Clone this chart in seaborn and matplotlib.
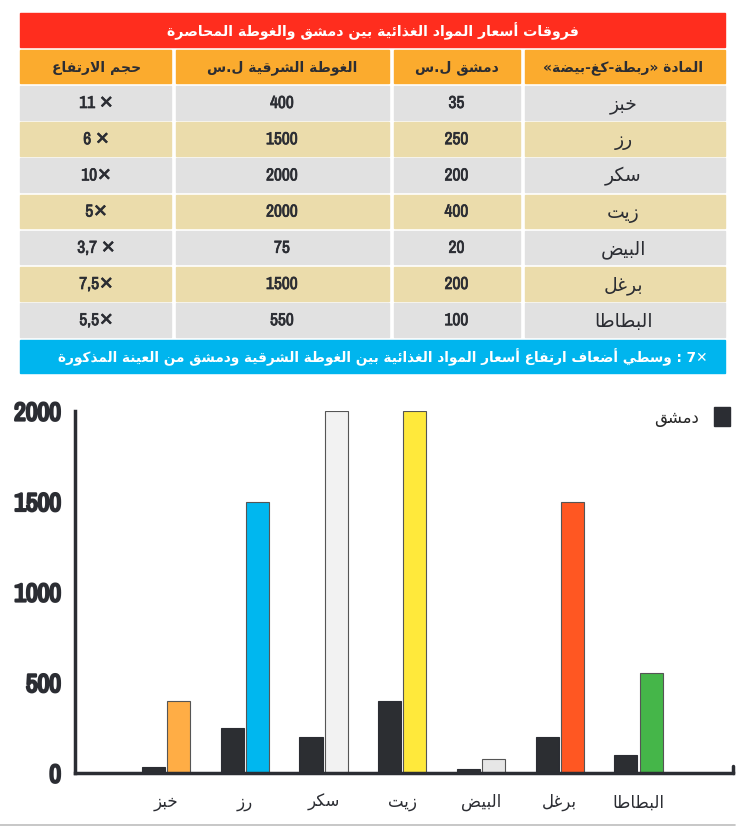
import re
import pandas as pd
import seaborn as sns
import matplotlib.pyplot as plt
import matplotlib.patheffects as pe
from matplotlib.patches import Rectangle, Patch
from matplotlib import font_manager

# ---- data ----
items = ['خبز', 'رز', 'سكر', 'زيت', 'البيض', 'برغل', 'البطاطا']
damascus = [35, 250, 200, 400, 20, 200, 100]
ghouta = [400, 1500, 2000, 2000, 75, 1500, 550]
ratio_labels = ['11 ✕', '6 ✕', '10✕', '5✕', '3,7 ✕', '7,5✕', '5,5✕']
ghouta_colors = ['#ffad45', '#00b7ef', '#f2f2f2', '#ffe93b', '#e6e6e6', '#ff5722', '#45b649']
title = 'فروقات أسعار المواد الغذائية بين دمشق والغوطة المحاصرة'
headers = ['حجم الارتفاع', 'الغوطة الشرقية ل.س', 'دمشق ل.س', 'المادة «ربطة-كغ-بيضة»']
footer = 'وسطي أضعاف ارتفاع أسعار المواد الغذائية بين الغوطة الشرقية ودمشق من العينة المذكورة'
footer_mult = '7✕'
legend_label = 'دمشق'
yticks = [0, 500, 1000, 1500, 2000]

# ---- minimal arabic shaping (matplotlib has no shaping / bidi) ----
AR = {
    'ء': (0xFE80, -1), 'آ': (0xFE81, 0), 'أ': (0xFE83, 0), 'ؤ': (0xFE85, 0), 'إ': (0xFE87, 0),
    'ئ': (0xFE89, 1), 'ا': (0xFE8D, 0), 'ب': (0xFE8F, 1), 'ة': (0xFE93, 0), 'ت': (0xFE95, 1),
    'ث': (0xFE99, 1), 'ج': (0xFE9D, 1), 'ح': (0xFEA1, 1), 'خ': (0xFEA5, 1), 'د': (0xFEA9, 0),
    'ذ': (0xFEAB, 0), 'ر': (0xFEAD, 0), 'ز': (0xFEAF, 0), 'س': (0xFEB1, 1), 'ش': (0xFEB5, 1),
    'ص': (0xFEB9, 1), 'ض': (0xFEBD, 1), 'ط': (0xFEC1, 1), 'ظ': (0xFEC5, 1), 'ع': (0xFEC9, 1),
    'غ': (0xFECD, 1), 'ف': (0xFED1, 1), 'ق': (0xFED5, 1), 'ك': (0xFED9, 1), 'ل': (0xFEDD, 1),
    'م': (0xFEE1, 1), 'ن': (0xFEE5, 1), 'ه': (0xFEE9, 1), 'و': (0xFEED, 0), 'ى': (0xFEEF, 0),
    'ي': (0xFEF1, 1),
}
LAMALEF = {'آ': 0xFEF5, 'أ': 0xFEF7, 'إ': 0xFEF9, 'ا': 0xFEFB}
MIRROR = {'(': ')', ')': '(', '«': '»', '»': '«'}


def shape(text):
    out = []
    i = 0
    while i < len(text):
        c = text[i]
        if c not in AR:
            out.append(c)
            i += 1
            continue
        prev = text[i - 1] if i > 0 else ''
        p = prev in AR and AR[prev][1] == 1
        if c == 'ل' and i + 1 < len(text) and text[i + 1] in LAMALEF:
            out.append(chr(LAMALEF[text[i + 1]] + (1 if p else 0)))
            i += 2
            continue
        nxt = text[i + 1] if i + 1 < len(text) else ''
        base, kind = AR[c]
        q = kind == 1 and nxt in AR and AR[nxt][1] != -1
        if kind == -1:
            form = 0
        elif p and q:
            form = 3
        elif p:
            form = 1
        elif q:
            form = 2
        else:
            form = 0
        out.append(chr(base + form))
        i += 1
    return ''.join(out)


def ar(text):
    toks = re.findall(r'\d+(?:[.,]\d+)*|.', shape(text))
    return ''.join(MIRROR.get(t, t) for t in reversed(toks))


names = sorted({f.name for f in font_manager.fontManager.ttflist})
narrow = [n for n in names if 'Narrow' in n or 'Condensed' in n]
num_family = narrow[:1] + ['DejaVu Sans'] if narrow else ['DejaVu Sans']

dark = '#2b2d33'
# fake a heavier weight for the narrow digits
heavy = [pe.withStroke(linewidth=0.5, foreground=dark)]
heavy_axis = [pe.withStroke(linewidth=1.6, foreground=dark)]

# ---- figure ----
sns.set_style('white')
plt.rcParams['font.family'] = ['DejaVu Sans']

W, H = 754, 829
fig = plt.figure(figsize=(W / 100, H / 100), dpi=100)

bg = fig.add_axes([0, 0, 1, 1])
bg.set_xlim(0, W)
bg.set_ylim(H, 0)
bg.axis('off')

left, right = 20, 725
col_edges = [20, 173, 391, 522, 725]
col_centers = [(col_edges[k] + col_edges[k + 1]) / 2 for k in range(4)]
gap = 2.5

bg.add_patch(Rectangle((left, 14), right - left, 34, color='#ff2d1e'))
bg.text((left + right) / 2, 31, ar(title), color='white', fontsize=10.2, fontweight='bold',
        ha='center', va='center')

for k in range(4):
    x0, x1 = col_edges[k] + (gap if k else 0), col_edges[k + 1] - (gap if k < 3 else 0)
    bg.add_patch(Rectangle((x0, 51), x1 - x0, 33, color='#fbab2e'))
    bg.text(col_centers[k], 68, ar(headers[k]), color=dark, fontsize=10, fontweight='bold',
            ha='center', va='center')

row_colors = ['#e1e1e1', '#ebdcab']
for i, name in enumerate(items):
    top = 87 + i * 36.2
    cells = [ratio_labels[i], str(ghouta[i]), str(damascus[i]), ar(name)]
    for k in range(4):
        x0, x1 = col_edges[k] + (gap if k else 0), col_edges[k + 1] - (gap if k < 3 else 0)
        bg.add_patch(Rectangle((x0, top), x1 - x0, 33.5, color=row_colors[i % 2]))
        if k < 3:
            bg.text(col_centers[k], top + 17.5, cells[k], color=dark, fontsize=12.5,
                    fontweight='bold', ha='center', va='center', family=num_family,
                    path_effects=heavy)
        else:
            bg.text(col_centers[k], top + 17.5, cells[k], color=dark, fontsize=13.5,
                    ha='center', va='center')

bg.add_patch(Rectangle((left, 341), right - left, 33, color='#00b5ee'))
bg.text((left + right) / 2 + 10, 357, ar(footer) + ' : ' + footer_mult, color='white',
        fontsize=9.8, fontweight='bold', ha='center', va='center')

bg.plot([0, 735], [826, 826], color='#bdbdbd', lw=1.2)

# ---- bar chart ----
ax = fig.add_axes([75 / W, (H - 774) / H, (733 - 75) / W, (774 - 412) / H])
ax.set_facecolor('none')

labels = [ar(t) for t in items]
df = pd.DataFrame({
    'item': labels * 2,
    'city': ['d'] * len(items) + ['g'] * len(items),
    'value': damascus + ghouta,
})
sns.barplot(data=df, x='item', y='value', hue='city', order=labels, hue_order=['d', 'g'],
            palette=[dark, dark], width=0.64, gap=0.08, legend=False, ax=ax,
            edgecolor='#555555', linewidth=0.8)

n = len(items)
for j, patch in enumerate(ax.patches[n:2 * n]):
    patch.set_facecolor(ghouta_colors[j])
for patch in ax.patches[:n]:
    patch.set_edgecolor(dark)

ax.set_xlim(-1.156, 7.2)
ax.set_ylim(0, 2000)
ax.set_yticks(yticks)
ax.set_yticklabels([str(v) for v in yticks], fontsize=18.5, fontweight='bold',
                   family=num_family, color=dark)
for t in ax.get_yticklabels():
    t.set_path_effects(heavy_axis)
ax.tick_params(axis='y', direction='in', length=11, width=2.5, color=dark, pad=10)
ax.tick_params(axis='x', length=0, pad=14, labelsize=12, labelcolor=dark)
ax.set_xlabel('')
ax.set_ylabel('')
for side in ['top', 'right']:
    ax.spines[side].set_visible(False)
for side in ['left', 'bottom']:
    ax.spines[side].set_color(dark)
    ax.spines[side].set_linewidth(2.5)
ax.plot([1, 1], [0, 0.02], transform=ax.transAxes, color=dark, lw=2.5, clip_on=False)

ax.legend(handles=[Patch(facecolor=dark, edgecolor=dark)], labels=[ar(legend_label)],
          loc='upper right', bbox_to_anchor=(1.0, 1.02), frameon=False, markerfirst=False,
          fontsize=12, handlelength=0.95, handleheight=1.4, handletextpad=0.9,
          borderaxespad=0, borderpad=0.2)

fig.savefig('out.png', dpi=100)
